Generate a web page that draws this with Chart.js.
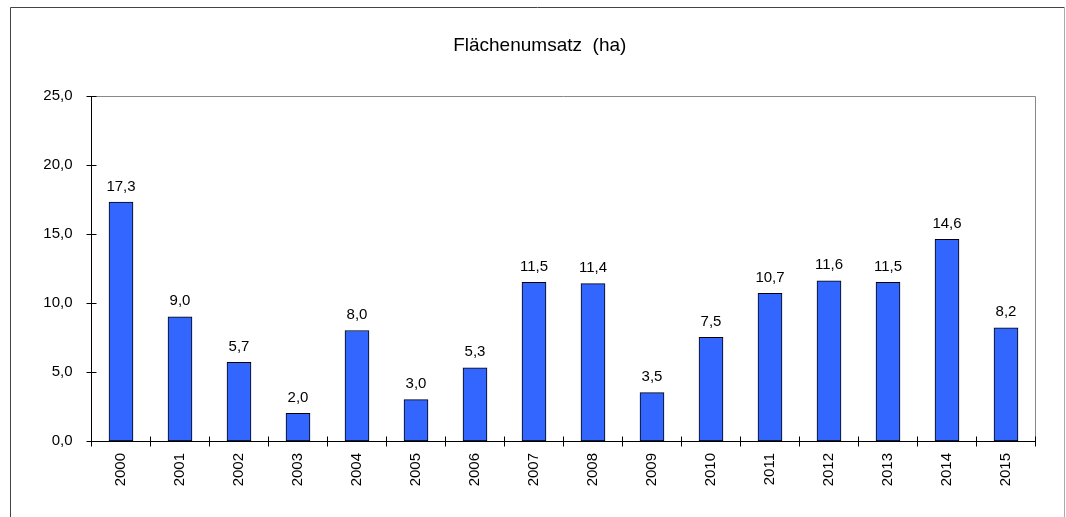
<!DOCTYPE html>
<html>
<head>
<meta charset="utf-8">
<script src="https://cdn.jsdelivr.net/npm/chart.js@4/dist/chart.umd.min.js"></script>
<style>
  html, body { margin: 0; padding: 0; background: #fff; }
  #wrap { width: 1066px; height: 517px; position: relative; }
</style>
</head>
<body>
<div id="wrap"><canvas id="chart"></canvas></div>
<script>
const years = ["2000","2001","2002","2003","2004","2005","2006","2007","2008","2009","2010","2011","2012","2013","2014","2015"]
const umsatz = [17.3, 9.0, 5.7, 2.0, 8.0, 3.0, 5.3, 11.5, 11.4, 3.5, 7.5, 10.7, 11.6, 11.5, 14.6, 8.2]
const titleText = "Flächenumsatz  (ha)"
const FONT = "'Liberation Sans', Arial, sans-serif"

function komma(v){
    return v.toFixed(1).replace(".", ",")
}

// outer frame + plot frame + crossing ticks + value labels
const framePlugin = {
    id: "frame",
    beforeDraw(chart){
        const ctx = chart.ctx
        ctx.save()
        ctx.lineWidth = 1
        ctx.strokeStyle = "#444"
        ctx.beginPath()
        ctx.moveTo(10.5, 530)
        ctx.lineTo(10.5, 7.5)
        ctx.lineTo(1064.5, 7.5)
        ctx.stroke()
        ctx.strokeStyle = "#aaa"
        ctx.beginPath()
        ctx.moveTo(1064.5, 7.5)
        ctx.lineTo(1064.5, 530)
        ctx.stroke()
        ctx.restore()
    },
    afterDatasetsDraw(chart){
        const ctx = chart.ctx
        const a = chart.chartArea
        const y = chart.scales.y
        ctx.save()
        ctx.lineWidth = 1
        ctx.strokeStyle = "#888"
        const lx = Math.floor(a.left) + 0.5
        const rx = Math.floor(a.right) + 0.5
        const ty = Math.round(a.top) + 0.5
        const by = Math.round(a.bottom) + 0.5
        ctx.beginPath()
        ctx.moveTo(lx, ty)
        ctx.lineTo(rx, ty)
        ctx.lineTo(rx, by)
        ctx.stroke()

        ctx.strokeStyle = "#000"
        ctx.beginPath()
        y.ticks.forEach((t, i) => {
            const py = Math.round(y.getPixelForTick(i)) + 0.5
            ctx.moveTo(lx - 5, py)
            ctx.lineTo(lx + 5, py)
        })
        for(let i = 0; i <= years.length; i++){
            const px = Math.floor(a.left + (a.right - a.left) * i / years.length) + 0.5
            ctx.moveTo(px, by - 5)
            ctx.lineTo(px, by + 5)
        }
        ctx.moveTo(lx, ty)
        ctx.lineTo(lx, by)
        ctx.lineTo(rx, by)
        ctx.stroke()

        ctx.fillStyle = "#000"
        ctx.font = "15px " + FONT
        ctx.textAlign = "center"
        ctx.textBaseline = "bottom"
        chart.getDatasetMeta(0).data.forEach((bar, i) => {
            ctx.fillText(komma(umsatz[i]), bar.x, bar.y - 8)
        })
        ctx.restore()
    }
}

new Chart(document.getElementById("chart"), {
    type: "bar",
    data: {
        labels: years,
        datasets: [{
            data: umsatz,
            backgroundColor: "#3366FF",
            borderColor: "#000",
            borderWidth: 1,
            borderSkipped: false,
            barThickness: 24,
            categoryPercentage: 1
        }]
    },
    plugins: [framePlugin],
    options: {
        responsive: true,
        maintainAspectRatio: false,
        animation: false,
        layout: { padding: { left: 44, right: 30.5, top: 0, bottom: 0 } },
        plugins: {
            legend: { display: false },
            tooltip: { enabled: false },
            title: {
                display: true,
                text: titleText,
                color: "#000",
                font: { family: FONT, size: 19, weight: "normal", lineHeight: 1.2 },
                padding: { top: 34, bottom: 39 }
            }
        },
        scales: {
            x: {
                grid: { display: false, drawTicks: false },
                border: { display: false },
                ticks: {
                    color: "#000",
                    font: { family: FONT, size: 15 },
                    minRotation: 90,
                    maxRotation: 90,
                    padding: 12
                },
                afterFit(scale){ scale.height = 76 }
            },
            y: {
                min: 0,
                max: 25,
                grid: { display: false, drawTicks: false },
                border: { display: false },
                ticks: {
                    stepSize: 5,
                    color: "#000",
                    font: { family: FONT, size: 15 },
                    padding: 19,
                    callback: (v) => komma(v)
                },
                afterFit(scale){ scale.width = 47.5 }
            }
        }
    }
})
</script>
</body>
</html>
